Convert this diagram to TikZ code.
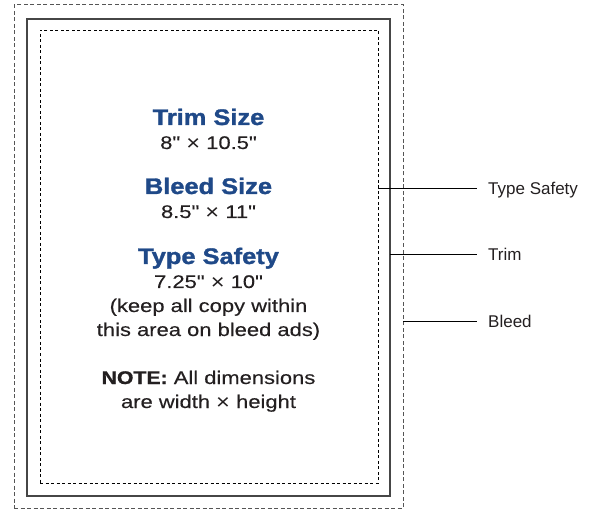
\documentclass[tikz,border=0pt]{standalone}
\usepackage{fontspec}
\setmainfont{Liberation Sans}
\newfontface\headfont{Liberation Sans Bold}[FakeStretch=1.13, FakeBold=1.4]
\newfontface\notefont{Liberation Sans Bold}[FakeStretch=1.16, FakeBold=1]
\newfontface\bodyfont{Liberation Sans}[FakeStretch=1.2, FakeBold=0.3]
\newfontface\labelfont{Liberation Sans}
\newfontface\crossfont{Liberation Sans}[FakeStretch=1.1]
\newcommand{\bigx}{\raisebox{-1.3pt}{\crossfont\fontsize{21.5}{22}\selectfont ×}}
\definecolor{headblue}{RGB}{31,73,136}
\definecolor{textdark}{RGB}{35,31,32}
\definecolor{bleedgray}{RGB}{85,85,85}
\definecolor{trimgray}{RGB}{70,70,70}
\tikzset{
  x=1pt, y=-1pt,
  boxbase/.style={rectangle, inner sep=0pt, outer sep=0pt},
  bleedbox/.style={boxbase, draw=bleedgray, line width=1pt, dash pattern=on 4pt off 2.5pt},
  trimbox/.style={boxbase, draw=trimgray, line width=1.2pt},
  safebox/.style={boxbase, draw=black, line width=0.9pt, dash pattern=on 3pt off 2.5pt},
  headtext/.style={anchor=base, inner sep=0pt, text=headblue, font=\headfont\fontsize{22.5}{26}\selectfont},
  bodytext/.style={anchor=base, inner sep=0pt, text=textdark, font=\bodyfont\fontsize{18.3}{22}\selectfont},
  sidelabel/.style={anchor=base west, inner sep=0pt, text=textdark, font=\labelfont\fontsize{17}{20}\selectfont},
  leader/.style={draw=black, line width=0.8pt}
}
\begin{document}
\begin{tikzpicture}
\useasboundingbox (0,0) rectangle (591,510);
% boxes
\node[bleedbox, minimum width=389pt, minimum height=503pt] (bleed) at (208.5,256.5) {};
\node[trimbox, minimum width=363pt, minimum height=477pt] (trim) at (208.5,257.5) {};
\node[safebox, minimum width=338pt, minimum height=453pt] (safe) at (209,256.5) {};
% center texts
\node[headtext] (t1) at (208.5,125) {Trim Size};
\node[bodytext] (t2) at (208.5,149) {8" \bigx{} 10.5"};
\node[headtext] (t3) at (208.5,194) {Bleed Size};
\node[bodytext] (t4) at (208.5,218) {8.5" \bigx{} 11"};
\node[headtext] (t5) at (208.5,264) {Type Safety};
\node[bodytext] (t6) at (208.5,288) {7.25" \bigx{} 10"};
\node[bodytext] (t7) at (208.5,312) {(keep all copy within};
\node[bodytext] (t8) at (208.5,336) {this area on bleed ads)};
\node[bodytext] (t9) at (208.5,384) {{\notefont NOTE:} All dimensions};
\node[bodytext] (t10) at (208.5,408) {are width \bigx{} height};
% side labels
\coordinate (lts) at (476.7,188.3);
\coordinate (ltr) at (476.7,254);
\coordinate (lbl) at (476.7,321.7);
\node[sidelabel] (sts) at (488,195) {Type Safety};
\node[sidelabel] (str) at (488,260.7) {Trim};
\node[sidelabel] (sbl) at (488,327.5) {Bleed};
\draw[leader] (safe.east |- lts) -- (lts);
\draw[leader] (trim.east |- ltr) -- (ltr);
\draw[leader] (bleed.east |- lbl) -- (lbl);
\end{tikzpicture}
\end{document}
